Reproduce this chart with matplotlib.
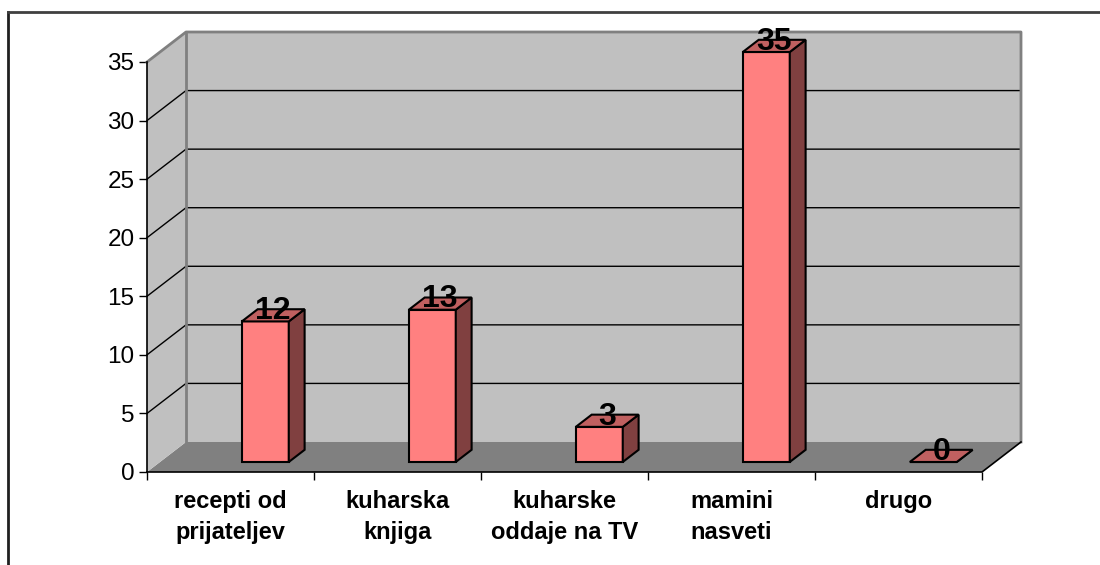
import matplotlib.pyplot as plt
from matplotlib.patches import Polygon
from matplotlib.lines import Line2D

plt.rcParams['font.family'] = ['Liberation Sans', 'DejaVu Sans']

categories = ['recepti od\nprijateljev', 'kuharska\nknjiga', 'kuharske\noddaje na TV',
              'mamini\nnasveti', 'drugo']
values = [12, 13, 3, 35, 0]
y_ticks = [0, 5, 10, 15, 20, 25, 30, 35]

# colours of the Excel-style 3D column chart
wall_color = '#C0C0C0'
floor_color = '#808080'
front_color = '#FF8080'
side_color = '#804040'
top_color = '#C06060'

fig = plt.figure(figsize=(11, 5.65), dpi=100)
# axes = front plane of the 3D box
ax = fig.add_axes([147 / 1100, 1 - 472 / 565, 835 / 1100, 410 / 565])
n = len(categories)
ymax = y_ticks[-1]
ax.set_xlim(0, n)
ax.set_ylim(0, ymax)

# depth vector (back of the box) in data units
DX = 39 / 167
DY = 30 / (410 / ymax)

def poly(pts, fc, ec='none', lw=0, z=1):
    ax.add_patch(Polygon(pts, closed=True, facecolor=fc, edgecolor=ec,
                         linewidth=lw, zorder=z, clip_on=False, joinstyle='miter'))

# floor, side wall, back wall
poly([(0, 0), (n, 0), (n + DX, DY), (DX, DY)], floor_color, z=1)
poly([(0, 0), (0, ymax), (DX, ymax + DY), (DX, DY)], wall_color, z=1)
poly([(DX, DY), (n + DX, DY), (n + DX, ymax + DY), (DX, ymax + DY)], wall_color, z=1)

# gridlines on side and back wall
for v in y_ticks[1:-1]:
    ax.plot([0, DX, n + DX], [v, v + DY, v + DY], color='black', lw=1,
            zorder=2, clip_on=False)

# wall borders
ax.plot([0, DX, n + DX, n + DX], [ymax, ymax + DY, ymax + DY, DY],
        color='#808080', lw=2, zorder=2, clip_on=False)
ax.plot([DX, DX], [DY, ymax + DY], color='#808080', lw=2, zorder=2, clip_on=False)
ax.plot([0, n, n + DX], [0, 0, DY], color='black', lw=1.2, zorder=3, clip_on=False)

# 3D bars
f0, f1 = 1 / 3, 0.74
w = 0.281
for i, v in enumerate(values):
    x0 = i + 0.49
    a = (x0 + f0 * DX, f0 * DY)
    b = (x0 + w + f0 * DX, f0 * DY)
    c = (x0 + w + f1 * DX, f1 * DY)
    poly([a, b, (b[0], b[1] + v), (a[0], a[1] + v)], front_color, 'black', 1.5, 4)
    poly([b, c, (c[0], c[1] + v), (b[0], b[1] + v)], side_color, 'black', 1.5, 4)
    poly([(a[0], a[1] + v), (b[0], b[1] + v), (c[0], c[1] + v),
          (x0 + f1 * DX, f1 * DY + v)], top_color, 'black', 1.5, 4)
    cx = x0 + w / 2 + (f0 + f1) / 2 * DX
    cy = v + (f0 + f1) / 2 * DY
    ax.annotate(str(v), (cx, cy), xytext=(0, 3), textcoords='offset points',
                ha='center', va='center', fontsize=23, fontweight='bold',
                zorder=6, annotation_clip=False)

# axes styling
for s in ['top', 'right', 'bottom']:
    ax.spines[s].set_visible(False)
ax.spines['left'].set_color('black')
ax.spines['left'].set_linewidth(1.2)
ax.set_yticks(y_ticks)
ax.tick_params(axis='y', direction='out', length=6, width=1, labelsize=17.5, pad=3)
ax.set_xticks(range(n + 1))
ax.set_xticklabels([])
ax.tick_params(axis='x', which='major', direction='out', length=6, width=1)
ax.set_xticks([i + 0.5 for i in range(n)], minor=True)
ax.set_xticklabels(categories, minor=True, fontsize=17, fontweight='bold',
                   linespacing=1.45, va='top')
ax.tick_params(axis='x', which='minor', length=0, pad=13)
ax.set_facecolor('none')

# chart area border
fig.add_artist(Line2D([7.5 / 1100, 7.5 / 1100], [0, 1 - 12 / 565], color='#202020', lw=2))
fig.add_artist(Line2D([7.5 / 1100, 1], [1 - 12 / 565, 1 - 12 / 565], color='#404040', lw=2))

fig.savefig('out.png', dpi=100)
